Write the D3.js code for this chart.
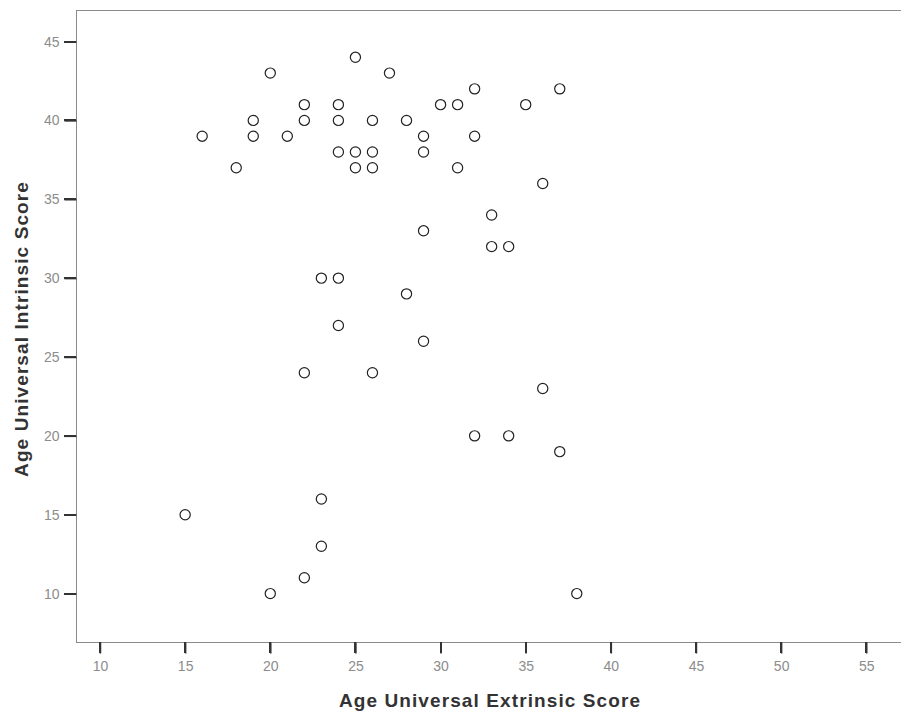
<!DOCTYPE html>
<html>
<head>
<meta charset="utf-8">
<script src="https://cdn.jsdelivr.net/npm/d3@7"></script>
<style>
  html, body { margin: 0; padding: 0; background: #fff; }
  svg { display: block; }
</style>
</head>
<body>
<svg id="chart" width="901" height="714"></svg>
<script>
// Data: Age Universal Extrinsic Score (x) vs Age Universal Intrinsic Score (y)
const extrinsic = [15,16,18,19,19,20,20,21,22,22,22,22,23,23,23,24,24,24,24,24,25,25,25,26,26,26,26,27,28,28,29,29,29,29,30,31,31,32,32,32,33,33,34,34,35,36,36,37,37,38];
const intrinsic = [15,39,37,40,39,43,10,39,41,40,24,11,30,16,13,41,40,38,30,27,44,38,37,40,38,37,24,43,40,29,39,38,33,26,41,41,37,42,39,20,34,32,32,20,41,36,23,42,19,10];
const xTicks = [10,15,20,25,30,35,40,45,50,55];
const yTicks = [10,15,20,25,30,35,40,45];
const xTitle = "Age Universal Extrinsic Score";
const yTitle = "Age Universal Intrinsic Score";

const svg = d3.select("#chart");
const mLeft = 76, mTop = 10, mBottom = 642, mRight = 901;

const x = d3.scaleLinear().domain([8.59, 57.04]).range([mLeft, mRight]);
const y = d3.scaleLinear().domain([6.93, 47.0]).range([mBottom, mTop]);

const axisColor = "#8a8a8a";
const tickTextColor = "#8c8c8c";
const tickColor = "#333";

// top frame line
svg.append("line").attr("x1", mLeft).attr("x2", mRight).attr("y1", mTop + 0.5).attr("y2", mTop + 0.5)
  .attr("stroke", axisColor).attr("stroke-width", 1);

// axes (labels + domain through d3 axes)
const xAxis = d3.axisBottom(x).tickValues(xTicks).tickSizeInner(11).tickSizeOuter(0).tickPadding(8);
const gx = svg.append("g").attr("transform", `translate(0,${mBottom + 0.5})`).call(xAxis);
const yAxis = d3.axisLeft(y).tickValues(yTicks).tickSizeInner(12).tickSizeOuter(0).tickPadding(5);
const gy = svg.append("g").attr("transform", `translate(${mLeft + 0.5},0)`).call(yAxis);

[gx, gy].forEach(g => {
  g.select(".domain").attr("stroke", axisColor).attr("stroke-width", 1);
  g.selectAll(".tick line").attr("stroke", tickColor).attr("stroke-width", 1.5);
  g.selectAll(".tick text").attr("fill", tickTextColor)
    .style("font-family", "Liberation Sans, Arial, sans-serif").style("font-size", "14px");
});
gy.select(".domain").attr("d", `M0,${mTop}V${mBottom}`);
gx.select(".domain").attr("d", `M${mLeft},0H${mRight}`);

// tick marks as small filled rects (from the same scales)
svg.append("g").selectAll("rect").data(xTicks).join("rect")
  .attr("x", d => Math.round(x(d)) - 1).attr("width", 2)
  .attr("y", mBottom).attr("height", 11)
  .attr("fill", tickColor);
svg.append("g").selectAll("rect").data(yTicks).join("rect")
  .attr("y", d => Math.round(y(d)) - 1).attr("height", 2)
  .attr("x", mLeft - 12).attr("width", 12)
  .attr("fill", tickColor);

// points
const pts = extrinsic.map((v, i) => ({ x: v, y: intrinsic[i] }));
svg.append("g").selectAll("circle").data(pts).join("circle")
  .attr("cx", d => x(d.x))
  .attr("cy", d => y(d.y))
  .attr("r", 5.1)
  .attr("fill", "none")
  .attr("stroke", "#222")
  .attr("stroke-width", 1.2);

// titles
svg.append("text")
  .attr("x", 490).attr("y", 707)
  .attr("text-anchor", "middle")
  .attr("fill", "#333")
  .attr("letter-spacing", "1.1")
  .style("font-family", "Liberation Sans, Arial, sans-serif")
  .style("font-size", "19px").style("font-weight", "bold")
  .text(xTitle);

svg.append("text")
  .attr("transform", `translate(28,329) rotate(-90)`)
  .attr("text-anchor", "middle")
  .attr("fill", "#333")
  .attr("letter-spacing", "1.1")
  .style("font-family", "Liberation Sans, Arial, sans-serif")
  .style("font-size", "19px").style("font-weight", "bold")
  .text(yTitle);
</script>
</body>
</html>
